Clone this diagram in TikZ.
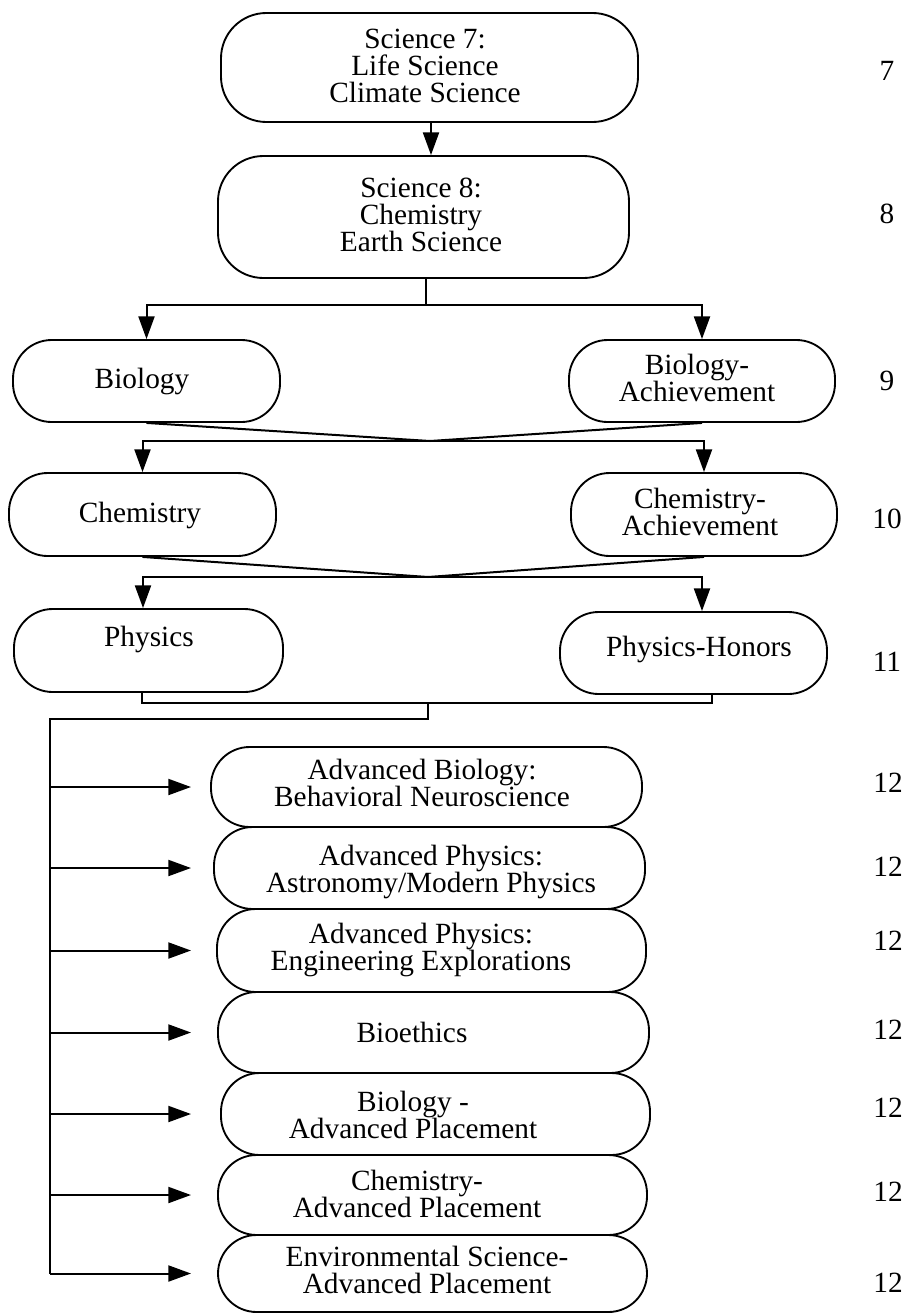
\documentclass[tikz,border=0pt]{standalone}
\usepackage{fontspec}
\setmainfont{Liberation Serif}
\usetikzlibrary{arrows.meta,fit,calc}
\begin{document}
\begin{tikzpicture}[x=0.75pt,y=-0.75pt,
  box/.style={draw, line width=1.4pt, rounded corners=29pt, inner sep=0pt},
  bigbox/.style={box, rounded corners=34pt},
  txt/.style={align=center, font=\fontsize{22}{20.5}\selectfont, inner sep=0pt},
  grade/.style={font=\fontsize{22}{20.5}\selectfont, inner sep=0pt},
  ln/.style={line width=1.5pt},
  arr/.style={line width=1.5pt, -{Triangle[length=17pt,width=12pt]}}]
\useasboundingbox (0,0) rectangle (904,1314);

% boxes
\node[bigbox, fit={(221,13) (638,122)}] (s7) {};
\node[bigbox, fit={(218,156) (629,278)}] (s8) {};
\node[box, fit={(13,340) (280,422)}] (bio) {};
\node[box, fit={(569,340) (835,422)}] (bioa) {};
\node[box, fit={(9,473) (276,556)}] (chem) {};
\node[box, fit={(571,473) (837,556)}] (chema) {};
\node[box, fit={(14,609) (283,692)}] (phys) {};
\node[box, fit={(560,612) (827,694)}] (physh) {};
\node[box, fit={(211,747) (642,827)}] (advbio) {};
\node[box, fit={(214,827) (645,909)}] (advastro) {};
\node[box, fit={(217,909) (646,992)}] (adveng) {};
\node[box, fit={(218,992) (649,1073)}] (bioeth) {};
\node[box, fit={(221,1073) (650,1155)}] (bioap) {};
\node[box, fit={(218,1155) (647,1235)}] (chemap) {};
\node[box, fit={(218,1235) (647,1312)}] (envap) {};

% texts
\node[txt] (t7) at (425,66) {Science 7:\\Life Science\\Climate Science};
\node[txt] (t8) at (421,215) {Science 8:\\Chemistry\\Earth Science};
\node[txt] (tbio) at (142,381) {Biology};
\node[txt] (tbioa) at (697,378) {Biology-\\Achievement};
\node[txt] (tchem) at (140,515) {Chemistry};
\node[txt] (tchema) at (700,512) {Chemistry-\\Achievement};
\node[txt] (tphys) at (149,639) {Physics};
\node[txt] (tphysh) at (699,649) {Physics-Honors};
\node[txt] (tadvbio) at (422,783) {Advanced Biology:\\Behavioral Neuroscience};
\node[txt] (tadvastro) at (431,872) {Advanced Physics:\\Astronomy/Modern Physics};
\node[txt] (tadveng) at (421,950) {Advanced Physics:\\Engineering Explorations};
\node[txt] (tbioeth) at (412,1032) {Bioethics};
\node[txt] (tbioap) at (413,1115) {Biology -\\Advanced Placement};
\node[txt] (tchemap) at (417,1194) {Chemistry-\\Advanced Placement};
\node[txt] (tenvap) at (427,1270) {Environmental Science-\\Advanced Placement};

% grade labels
\node[grade] (g7) at (887,71) {7};
\node[grade] (g8) at (887,214) {8};
\node[grade] (g9) at (887,381) {9};
\node[grade] (g10) at (887,519) {10};
\node[grade] (g11) at (887,662) {11};
\node[grade] (g12a) at (888,783) {12};
\node[grade] (g12b) at (888,867) {12};
\node[grade] (g12c) at (888,941) {12};
\node[grade] (g12d) at (888,1030) {12};
\node[grade] (g12e) at (888,1108) {12};
\node[grade] (g12f) at (888,1192) {12};
\node[grade] (g12g) at (888,1283) {12};

% junction coordinates
\coordinate (a1) at (431,0);
\coordinate (j1) at (426,305);
\coordinate (j2) at (430,441);
\coordinate (j3) at (428,577);
\coordinate (p1) at (143,0);
\coordinate (p2) at (702,0);
\coordinate (k1) at (142,703);
\coordinate (k2) at (712,703);
\coordinate (k3) at (428,703);
\coordinate (k4) at (428,719);
\coordinate (k5) at (50,719);
\coordinate (tip) at (191,0);

% connectors
\draw[arr] (s7.south -| a1) -- (s8.north -| a1);
\draw[ln] (s8.south -| j1) -- (j1);
\draw[arr] (j1) -| (bio.north);
\draw[arr] (j1) -| (bioa.north);
\draw[ln] (bio.south) -- (j2) -- (bioa.south);
\draw[arr] (j2) -| (chem.north);
\draw[arr] (j2) -| (chema.north);
\draw[ln] (chem.south) -- (j3) -- (chema.south);
\draw[arr] (j3) -| (phys.north -| p1);
\draw[arr] (j3) -| (physh.north -| p2);
\draw[ln] (k1 |- phys.south) -- (k1) -- (k2) -- (k2 |- physh.south);
\draw[ln] (k3) -- (k4) -- (k5) -- (k5 |- envap.west);
\foreach \b in {advbio,advastro,adveng,bioeth,bioap,chemap,envap}{
  \draw[arr] (k5 |- \b.west) -- (tip |- \b.west);
}
\end{tikzpicture}
\end{document}
